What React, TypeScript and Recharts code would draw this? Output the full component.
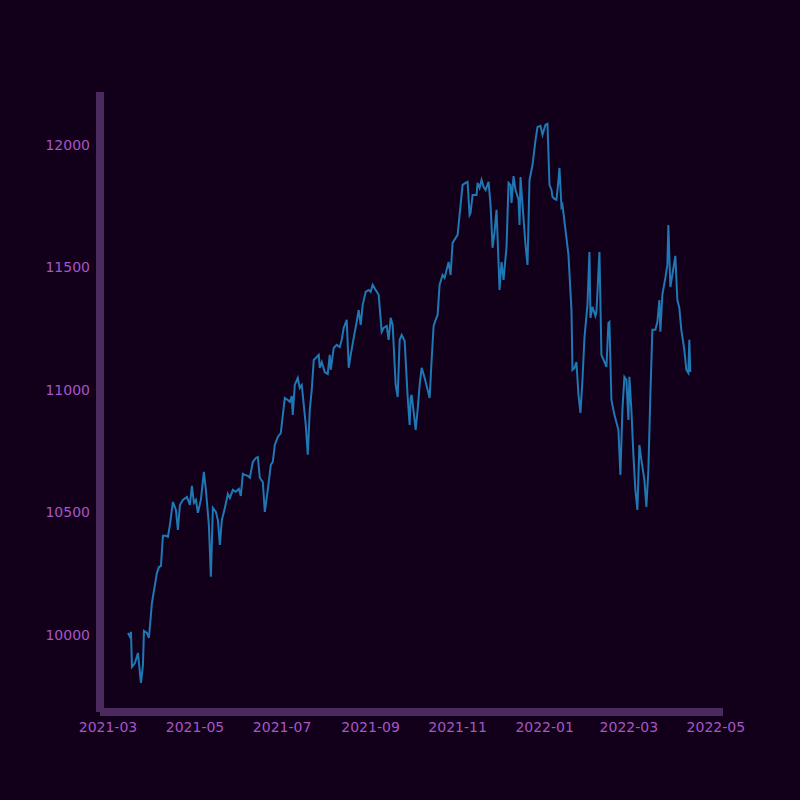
import { LineChart, Line, XAxis, YAxis } from 'recharts'

// days since 2021-03-01
const days = [
  14, 15.4, 16.1, 16.8, 18.9, 21, 23.1, 24.5, 25.2, 27.3,
  28.7, 30.8, 34.3, 35.7, 37.1, 38.5, 40.6, 42, 43.4, 45.5,
  47.6, 49, 50.4, 52.5, 55.3, 57.4, 58.8, 60.2, 61.6, 63,
  65.1, 67.2, 68.6, 70.7, 72.1, 73.5, 75.6, 77, 78.4, 79.8,
  81.9, 84, 85.4, 87.5, 89.6, 91.7, 93.1, 94.5, 95.9, 98,
  99.4, 101.5, 103.6, 105, 106.4, 108.5, 109.9, 112, 114.1, 115.5,
  116.9, 119, 121.1, 123.9, 126, 127.4, 128.8, 129.5, 130.9, 133,
  134.4, 135.8, 138.6, 140, 141.4, 142.8, 144.2, 145.6, 147.7, 148.4,
  149.8, 151.9, 154, 155.4, 156.1, 158.2, 160.3, 162.4, 163.8, 165.2,
  167.3, 168.7, 170.1, 172.2, 174.3, 175.7, 177.1, 178.5, 180.6, 182.7,
  184.1, 185.5, 187.6, 189.7, 191.8, 193.2, 195.3, 196.7, 198.1, 199.5,
  201.6, 203, 204.4, 205.8, 207.9, 210, 211.4, 212.1, 212.8, 214.2,
  215.6, 217, 218.4, 219.8, 221.9, 224, 225.4, 226.8, 228.2, 229.6,
  231, 232.4, 234.5, 235.9, 237.3, 238.7, 240.1, 241.5, 243.6, 245,
  247.1, 248.5, 250.6, 252, 253.4, 254.1, 255.5, 256.9, 258.3, 259,
  260.4, 261.8, 263.2, 264.6, 266.7, 268.1, 269.5, 270.9, 272.3, 274.4,
  275.1, 275.8, 277.2, 279.3, 280.7, 282.1, 282.8, 284.2, 285.6, 287.7,
  288.4, 289.1, 290.5, 292.6, 294, 295.4, 297.5, 299.6, 301, 303.1,
  304.5, 306.6, 308, 309.4, 310.8, 311.5, 312.9, 314.3, 315.7, 316.4,
  317.8, 318.5, 320.6, 322.7, 324.8, 325.5, 326.9, 328.3, 329.7, 331.1,
  332.5, 333.9, 336, 337.4, 338.1, 339.5, 341.6, 342.3, 344.4, 345.8,
  347.9, 349.3, 350.7, 351.4, 352.8, 354.9, 357.7, 359.1, 360.5, 361.9,
  363.3, 364.7, 365.4, 366.8, 368.2, 369.6, 371, 372.4, 373.8, 375.9,
  377.3, 378.7, 380.1, 381.5, 383.6, 385, 386.4, 387.1, 388.5, 390.6,
  392, 392.7, 394.1, 395.5, 397.6, 399, 400.4, 401.8, 403.9, 405.3,
  406.7, 407.4, 408.1,
]

const values = [
  10008, 9992, 10012, 9869, 9885, 9926, 9804, 9877, 10016, 10008,
  9988, 10130, 10253, 10277, 10281, 10404, 10404, 10400, 10449, 10543,
  10510, 10428, 10530, 10551, 10563, 10530, 10608, 10539, 10551, 10498,
  10551, 10665, 10592, 10449, 10237, 10518, 10502, 10469, 10367, 10469,
  10518, 10575, 10559, 10592, 10584, 10596, 10567, 10657, 10653, 10649,
  10641, 10706, 10722, 10726, 10641, 10624, 10502, 10592, 10694, 10706,
  10775, 10808, 10824, 10967, 10959, 10951, 10975, 10898, 11020, 11049,
  11008, 11020, 10857, 10735, 10918, 11000, 11122, 11130, 11143, 11090,
  11114, 11073, 11065, 11143, 11082, 11171, 11184, 11175, 11204, 11253,
  11286, 11090, 11143, 11212, 11278, 11326, 11265, 11347, 11400, 11408,
  11400, 11429, 11408, 11388, 11237, 11253, 11261, 11204, 11294, 11265,
  11020, 10971, 11204, 11224, 11200, 10971, 10857, 10967, 10980, 10910,
  10837, 10918, 11020, 11090, 11049, 11000, 10967, 11122, 11261, 11286,
  11306, 11429, 11469, 11457, 11490, 11522, 11469, 11600, 11620, 11633,
  11755, 11837, 11845, 11849, 11714, 11722, 11796, 11796, 11796, 11845,
  11824, 11857, 11829, 11816, 11849, 11755, 11580, 11645, 11735, 11408,
  11469, 11522, 11449, 11584, 11845, 11837, 11763, 11873, 11816, 11776,
  11673, 11869, 11755, 11592, 11510, 11857, 11918, 12020, 12073, 12078,
  12041, 12082, 12086, 11837, 11816, 11788, 11780, 11776, 11857, 11906,
  11747, 11755, 11653, 11551, 11326, 11082, 11090, 11114, 10980, 10906,
  11041, 11212, 11347, 11563, 11294, 11339, 11302, 11318, 11563, 11143,
  11114, 11094, 11273, 11277, 10959, 10898, 10837, 10653, 10918, 11053,
  11041, 10877, 11053, 10918, 10735, 10592, 10510, 10775, 10714, 10633,
  10522, 10673, 10980, 11245, 11245, 11277, 11367, 11237, 11388, 11457,
  11510, 11673, 11420, 11469, 11547, 11367, 11335, 11245, 11163, 11082,
  11069, 11204, 11073,
]

const xTicks = [0, 61, 122, 184, 245, 306, 365, 426]
const xLabels = ['2021-03', '2021-05', '2021-07', '2021-09', '2021-11', '2022-01', '2022-03', '2022-05']
const yTicks = [10000, 10500, 11000, 11500, 12000]

const data = days.map((d, i) => ({ day: d, value: values[i] }))

const spine = '#4b2b5f'
const text = { fill: '#a855c8', fontSize: 14, fontFamily: 'DejaVu Sans' }

export default function App() {
  return (
    <div style={{ position: 'fixed', left: 0, top: 0, width: 800, height: 800, background: '#12001a' }}>
      <LineChart width={800} height={800} data={data} margin={{ top: 92, right: 77, bottom: 58, left: 40 }}>
        <XAxis
          dataKey="day"
          type="number"
          domain={[-5.6, 431]}
          ticks={xTicks}
          interval={0}
          tickFormatter={(v) => xLabels[xTicks.indexOf(v)] ?? ''}
          tick={text}
          tickLine={false}
          tickSize={6}
          tickMargin={4}
          height={30}
          axisLine={{ stroke: spine, strokeWidth: 8 }}
          allowDataOverflow
        />
        <YAxis
          type="number"
          domain={[9685, 12216]}
          ticks={yTicks}
          interval={0}
          tick={text}
          tickLine={false}
          tickSize={6}
          tickMargin={4}
          width={60}
          axisLine={{ stroke: spine, strokeWidth: 8 }}
          allowDataOverflow
        />
        <Line dataKey="value" stroke="#1f77b4" strokeWidth={2} dot={false} isAnimationActive={false} />
      </LineChart>
    </div>
  )
}
